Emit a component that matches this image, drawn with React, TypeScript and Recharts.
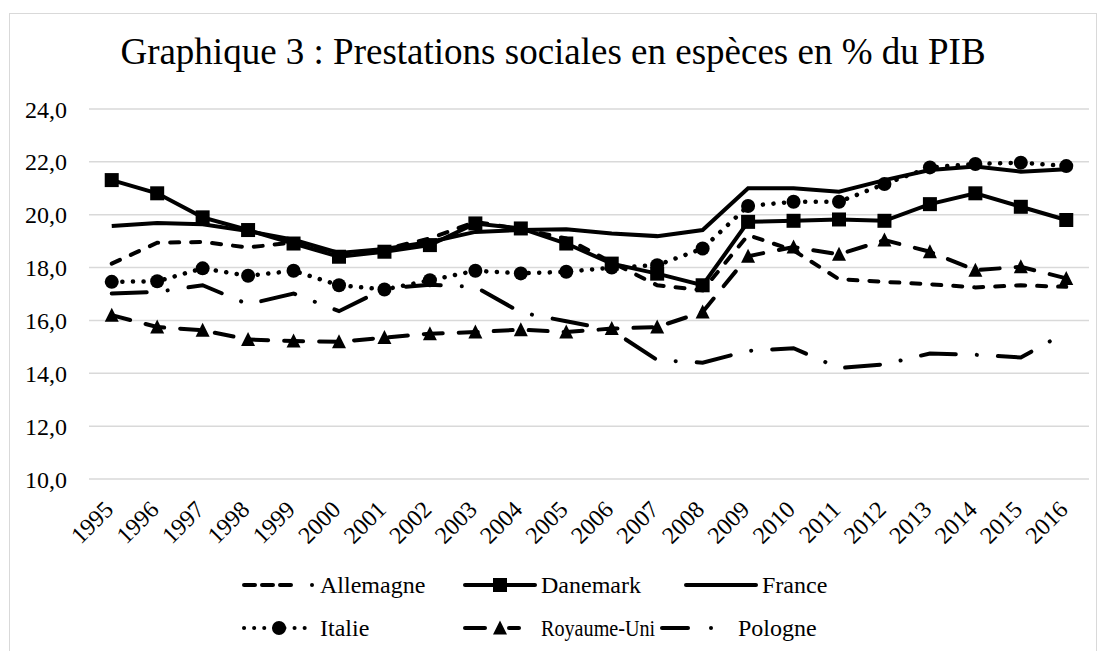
import React from 'react';
import { LineChart, Line, XAxis, YAxis, CartesianGrid, Legend } from 'recharts';

const years = ['1995', '1996', '1997', '1998', '1999', '2000', '2001', '2002', '2003', '2004', '2005', '2006', '2007', '2008', '2009', '2010', '2011', '2012', '2013', '2014', '2015', '2016'];
const allemagne = [18.15, 18.94, 18.97, 18.76, 18.95, 18.5, 18.7, 19.1, 19.73, 19.45, 19.1, 18.2, 17.33, 17.14, 19.23, 18.65, 17.56, 17.46, 17.37, 17.25, 17.33, 17.27];
const danemark = [21.31, 20.81, 19.9, 19.42, 18.91, 18.41, 18.6, 18.85, 19.67, 19.48, 18.91, 18.15, 17.77, 17.33, 19.73, 19.77, 19.82, 19.77, 20.4, 20.81, 20.3, 19.8];
const france = [19.57, 19.69, 19.64, 19.38, 19.05, 18.55, 18.7, 18.97, 19.35, 19.42, 19.45, 19.29, 19.19, 19.42, 21.0, 21.0, 20.87, 21.31, 21.69, 21.82, 21.63, 21.72];
const italie = [17.46, 17.48, 17.97, 17.69, 17.88, 17.33, 17.17, 17.52, 17.88, 17.78, 17.84, 18.0, 18.09, 18.72, 20.33, 20.49, 20.49, 21.16, 21.79, 21.92, 21.97, 21.84];
const royaumeUni = [16.2, 15.75, 15.63, 15.28, 15.22, 15.19, 15.35, 15.5, 15.56, 15.65, 15.56, 15.69, 15.75, 16.32, 18.43, 18.78, 18.5, 19.04, 18.6, 17.9, 18.03, 17.59];
const pologne = [17.02, 17.08, 17.33, 16.61, 17.02, 16.35, 17.2, 17.35, 17.27, 16.3, 15.97, 15.63, 14.5, 14.4, 14.85, 14.95, 14.2, 14.34, 14.75, 14.7, 14.6, 15.55];
const yTicks = [10, 12, 14, 16, 18, 20, 22, 24];
const titleText = 'Graphique 3 : Prestations sociales en espèces en % du PIB';

const data = years.map((y, i) => ({
  year: y,
  Allemagne: allemagne[i],
  Danemark: danemark[i],
  France: france[i],
  Italie: italie[i],
  'Royaume-Uni': royaumeUni[i],
  Pologne: pologne[i],
}));

const FONT = 'Liberation Serif, Tinos, Times New Roman, DejaVu Serif, serif';
const SW = 4;
const DASH_ALL = '9 12';
const DOT_IT = '0.1 10.5';
const DASH_RU = '19 16';
const DASH_PL = '35 21 0.1 21';
const HALF_BAND = 1000 / 22 / 2;

const SquareDot = (props: any) => {
  const { cx, cy, index } = props;
  if (cx == null || cy == null) return <g key={`s${index}`} />;
  return <rect key={`s${index}`} x={cx - 7} y={cy - 7} width={14} height={14} fill="#000" />;
};
const CircleDot = (props: any) => {
  const { cx, cy, index } = props;
  if (cx == null || cy == null) return <g key={`c${index}`} />;
  return <circle key={`c${index}`} cx={cx} cy={cy} r={7} fill="#000" />;
};
const TriDot = (props: any) => {
  const { cx, cy, index } = props;
  if (cx == null || cy == null) return <g key={`t${index}`} />;
  return <polygon key={`t${index}`} points={`${cx},${cy - 7.5} ${cx + 7},${cy + 6.5} ${cx - 7},${cy + 6.5}`} fill="#000" />;
};

const XTick = (props: any) => {
  const { x, payload } = props;
  const tx = x + 3;
  const ty = 511;
  return (
    <text x={tx} y={ty} transform={`rotate(-45 ${tx} ${ty})`} textAnchor="end" fontSize={24} style={{ fontFamily: FONT }} fill="#000">
      {payload.value}
    </text>
  );
};

const yFmt = (v: number) => v.toFixed(1).replace('.', ',');

const LegendIcon = ({ kind }: { kind: string }) => {
  const y = 10;
  const common = { stroke: '#000', strokeWidth: SW, strokeLinecap: 'round' as const };
  switch (kind) {
    case 'Allemagne':
      return (
        <svg width={76} height={20}>
          <line x1={2} y1={y} x2={56} y2={y} {...common} strokeDasharray="11 7" />
          <circle cx={70} cy={y} r={2} fill="#000" />
        </svg>
      );
    case 'Danemark':
      return (
        <svg width={76} height={20}>
          <line x1={2} y1={y} x2={72} y2={y} {...common} />
          <rect x={30} y={y - 7} width={14} height={14} fill="#000" />
        </svg>
      );
    case 'France':
      return (
        <svg width={76} height={20}>
          <line x1={2} y1={y} x2={72} y2={y} {...common} />
        </svg>
      );
    case 'Italie':
      return (
        <svg width={76} height={20}>
          <line x1={2} y1={y} x2={72} y2={y} {...common} strokeDasharray="0.1 10" />
          <circle cx={37} cy={y} r={7} fill="#000" />
        </svg>
      );
    case 'Royaume-Uni':
      return (
        <svg width={76} height={20}>
          <line x1={2} y1={y} x2={22} y2={y} {...common} />
          <line x1={46} y1={y} x2={56} y2={y} {...common} />
          <polygon points={`37,${y - 7.5} 44,${y + 6.5} 30,${y + 6.5}`} fill="#000" />
        </svg>
      );
    default:
      return (
        <svg width={76} height={20}>
          <line x1={2} y1={y} x2={28} y2={y} {...common} />
          <circle cx={51} cy={y} r={2} fill="#000" />
        </svg>
      );
  }
};

const legendLayout = [
  { name: 'Allemagne', left: 242, top: 0, sx: 1 },
  { name: 'Danemark', left: 463, top: 0, sx: 1 },
  { name: 'France', left: 684, top: 0, sx: 1 },
  { name: 'Italie', left: 242, top: 43, sx: 1 },
  { name: 'Royaume-Uni', left: 463, top: 43, sx: 0.84 },
  { name: 'Pologne', left: 660, top: 43, sx: 1 },
];

const renderLegend = () => (
  <div style={{ position: 'relative', width: 1106, height: 70 }}>
    {legendLayout.map((it) => (
      <div
        key={it.name}
        style={{ position: 'absolute', left: it.left, top: it.top, display: 'flex', alignItems: 'center', height: 28, whiteSpace: 'nowrap' }}
      >
        <LegendIcon kind={it.name} />
        <span
          style={{
            fontFamily: FONT,
            fontSize: 24,
            color: '#000',
            marginLeft: 2,
            lineHeight: '28px',
            display: 'inline-block',
            transform: `scaleX(${it.sx})`,
            transformOrigin: 'left center',
          }}
        >
          {it.name}
        </span>
      </div>
    ))}
  </div>
);

export default function App() {
  return (
    <div style={{ position: 'absolute', left: 0, top: 0, width: 1106, height: 651, background: '#fff', fontFamily: FONT }}>
      <div
        style={{ position: 'absolute', left: 9, top: 13, width: 1088, height: 645, border: '1.5px solid #d9d9d9', boxSizing: 'border-box' }}
      />
      <div
        style={{ position: 'absolute', left: 9, top: 33, width: 1088, textAlign: 'center', fontFamily: FONT, fontSize: 37, lineHeight: '37px', color: '#000', whiteSpace: 'nowrap' }}
      >
        {titleText}
      </div>
      <div style={{ position: 'absolute', left: 0, top: 0 }}>
        <LineChart width={1106} height={651} data={data} margin={{ top: 109, right: 17, left: 29, bottom: 112 }} style={{ fontFamily: FONT }}>
          <CartesianGrid vertical={false} stroke="#d9d9d9" strokeWidth={1.5} />
          <XAxis
            dataKey="year"
            axisLine={false}
            tickLine={false}
            tickSize={0}
            height={60}
            interval={0}
            padding={{ left: HALF_BAND, right: HALF_BAND }}
            tick={<XTick />}
          />
          <YAxis
            domain={[10, 24]}
            ticks={yTicks}
            axisLine={false}
            tickLine={false}
            tickSize={0}
            tickMargin={22}
            width={60}
            tickFormatter={yFmt}
            tick={{ fontSize: 24, fill: '#000', style: { fontFamily: FONT } }}
          />
          <Legend
            verticalAlign="middle"
            align="center"
            layout="horizontal"
            content={renderLegend}
            wrapperStyle={{ left: 0, top: 571, width: 1106, height: 70 }}
          />
          <Line type="linear" dataKey="Allemagne" stroke="#000" strokeWidth={SW} strokeDasharray={DASH_ALL} strokeLinecap="round" dot={false} isAnimationActive={false} />
          <Line type="linear" dataKey="Danemark" stroke="#000" strokeWidth={SW} dot={SquareDot} isAnimationActive={false} />
          <Line type="linear" dataKey="France" stroke="#000" strokeWidth={SW} dot={false} isAnimationActive={false} />
          <Line type="linear" dataKey="Italie" stroke="#000" strokeWidth={SW + 0.5} strokeDasharray={DOT_IT} strokeLinecap="round" dot={CircleDot} isAnimationActive={false} />
          <Line type="linear" dataKey="Royaume-Uni" stroke="#000" strokeWidth={SW} strokeDasharray={DASH_RU} strokeLinecap="round" dot={TriDot} isAnimationActive={false} />
          <Line type="linear" dataKey="Pologne" stroke="#000" strokeWidth={SW} strokeDasharray={DASH_PL} strokeLinecap="round" dot={false} isAnimationActive={false} />
        </LineChart>
      </div>
    </div>
  );
}
